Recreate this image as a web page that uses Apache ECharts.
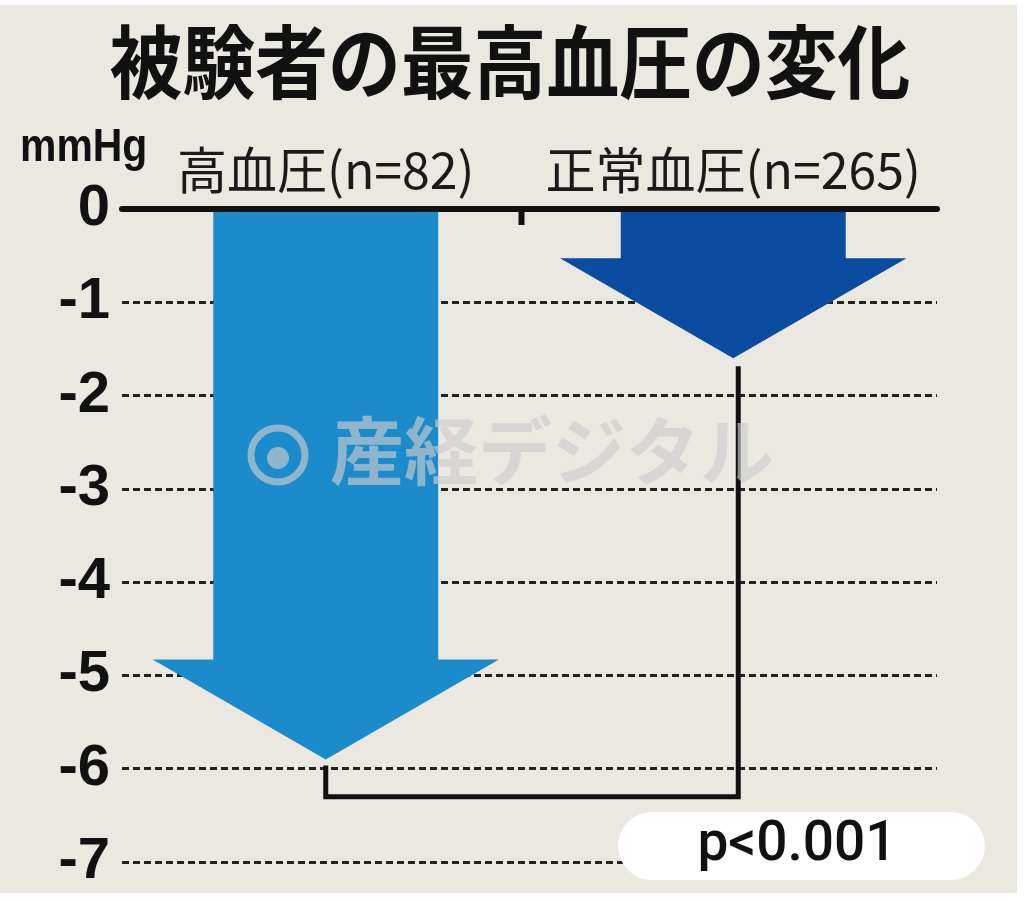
<!DOCTYPE html>
<html>
<head>
<meta charset="utf-8">
<script src="https://cdn.jsdelivr.net/npm/echarts@6/dist/echarts.min.js"></script>
<style>
html,body{margin:0;padding:0;background:#fff;}
#chart{width:1024px;height:901px;}
</style>
</head>
<body>
<div id="chart"></div>
<script>
// ---- data ----
const titleText = '被験者の最高血圧の変化';
const unitText = 'mmHg';
const categories = ['高血圧(n=82)', '正常血圧(n=265)'];
const changes = [-5.9, -1.6];
const bracketLevel = -6.3;
const pValueText = 'p<0.001';
const watermarkText = '産経デジタル';
const yMin = -7, yMax = 0, yStep = 1;

// ---- styles ----
const arrowColors = ['#1b8bcb', '#0a4c9f'];
const bg = '#ebe8e2';
const wmColor = 'rgba(205,205,205,0.65)';

const chart = echarts.init(document.getElementById('chart'), null, {renderer: 'canvas'});

const option = {
  animation: false,
  backgroundColor: bg,
  grid: {left: 122, right: 87, top: 209, bottom: 39},
  xAxis: {
    type: 'category',
    position: 'top',
    data: categories,
    z: 5,
    axisLine: {show: true, lineStyle: {color: '#111', width: 6}},
    axisTick: {show: false},
    splitLine: {show: false},
    axisLabel: {
      interval: 0,
      hideOverlap: false,
      fontSize: 50,
      color: '#1a1a1a',
      fontFamily: 'Noto Sans CJK JP',
      margin: 14
    }
  },
  yAxis: {
    type: 'value',
    min: yMin,
    max: yMax,
    interval: yStep,
    axisLine: {show: false},
    axisTick: {show: false},
    axisLabel: {
      fontSize: 58,
      fontWeight: 'bold',
      fontFamily: 'Liberation Sans',
      color: '#111',
      margin: 12
    },
    splitLine: {show: true, lineStyle: {color: '#222', width: 3, type: [7, 4]}}
  },
  series: [
    {
      type: 'custom',
      name: 'arrows',
      silent: true,
      z: 2,
      data: changes.map((v, i) => ({value: [i, v], itemStyle: {color: arrowColors[i]}})),
      renderItem: function (params, api) {
        const idx = api.value(0), v = api.value(1);
        const top = api.coord([idx, 0]);
        const tip = api.coord([idx, v]);
        const bw = api.size([1, 0])[0];
        const shaftW = bw * 0.552, headW = bw * 0.85, headLen = 100;
        const cx = top[0];
        const neckY = tip[1] - headLen;
        return {
          type: 'polygon',
          shape: {points: [
            [cx - shaftW / 2, top[1]], [cx + shaftW / 2, top[1]],
            [cx + shaftW / 2, neckY], [cx + headW / 2, neckY],
            [cx, tip[1]],
            [cx - headW / 2, neckY], [cx - shaftW / 2, neckY]
          ]},
          style: {fill: api.visual('color')}
        };
      }
    },
    {
      type: 'custom',
      name: 'bracket',
      silent: true,
      z: 3,
      data: [[0, bracketLevel]],
      renderItem: function (params, api) {
        const lvl = api.value(1);
        const t0 = api.coord([0, changes[0]]);
        const t1 = api.coord([1, changes[1]]);
        const b0 = api.coord([0, lvl]);
        const b1 = api.coord([1, lvl]);
        const z0 = api.coord([0, 0]);
        const z1 = api.coord([1, 0]);
        const midX = (z0[0] + z1[0]) / 2;
        return {
          type: 'group',
          children: [
            {
              type: 'polyline',
              shape: {points: [[t0[0], t0[1] + 6], [b0[0], b0[1]], [b1[0] + 5, b1[1]], [t1[0] + 5, t1[1] + 8]]},
              style: {stroke: '#111', lineWidth: 5, fill: null, lineJoin: 'miter'}
            },
            {
              type: 'line',
              shape: {x1: midX - 8, y1: z0[1], x2: midX - 8, y2: z0[1] + 16},
              style: {stroke: '#111', lineWidth: 6}
            }
          ]
        };
      }
    }
  ],
  graphic: {
    elements: [
      {type: 'rect', z: 0, shape: {x: 1017, y: 0, width: 7, height: 901}, style: {fill: '#fff'}},
      {type: 'rect', z: 0, shape: {x: 0, y: 893, width: 1024, height: 8}, style: {fill: '#fff'}},
      {type: 'rect', z: 0, shape: {x: 0, y: 0, width: 1024, height: 5}, style: {fill: '#fff'}},
      {
        type: 'text', x: 510, y: 62, scaleX: 0.91, z: 10,
        style: {text: titleText, fontSize: 80, fontWeight: 'bold', fontFamily: 'Noto Sans CJK JP',
          fill: '#111', align: 'center', verticalAlign: 'middle'}
      },
      {
        type: 'text', x: 20, y: 148, scaleX: 0.89, z: 10,
        style: {text: unitText, fontSize: 46, fontWeight: 'bold', fontFamily: 'Liberation Sans',
          fill: '#111', align: 'left', verticalAlign: 'middle'}
      },
      {
        type: 'rect', z: 20,
        shape: {x: 618, y: 812, width: 367, height: 68, r: 34},
        style: {fill: '#ffffff'}
      },
      {
        type: 'text', x: 797, y: 846, z: 21,
        style: {text: pValueText, fontSize: 55, fontWeight: 500, fontFamily: 'Roboto',
          fill: '#111', align: 'center', verticalAlign: 'middle'}
      },
      {type: 'circle', z: 100, shape: {cx: 278, cy: 455, r: 27}, style: {fill: null, stroke: wmColor, lineWidth: 7}},
      {type: 'circle', z: 100, shape: {cx: 278, cy: 458, r: 11}, style: {fill: wmColor}},
      {type: 'text', z: 100, x: 330, y: 451,
        style: {text: watermarkText, fontSize: 74, fontWeight: 'bold', fontFamily: 'Noto Sans CJK JP',
          fill: wmColor, align: 'left', verticalAlign: 'middle'}}
    ]
  }
};
chart.setOption(option);
</script>
</body>
</html>
